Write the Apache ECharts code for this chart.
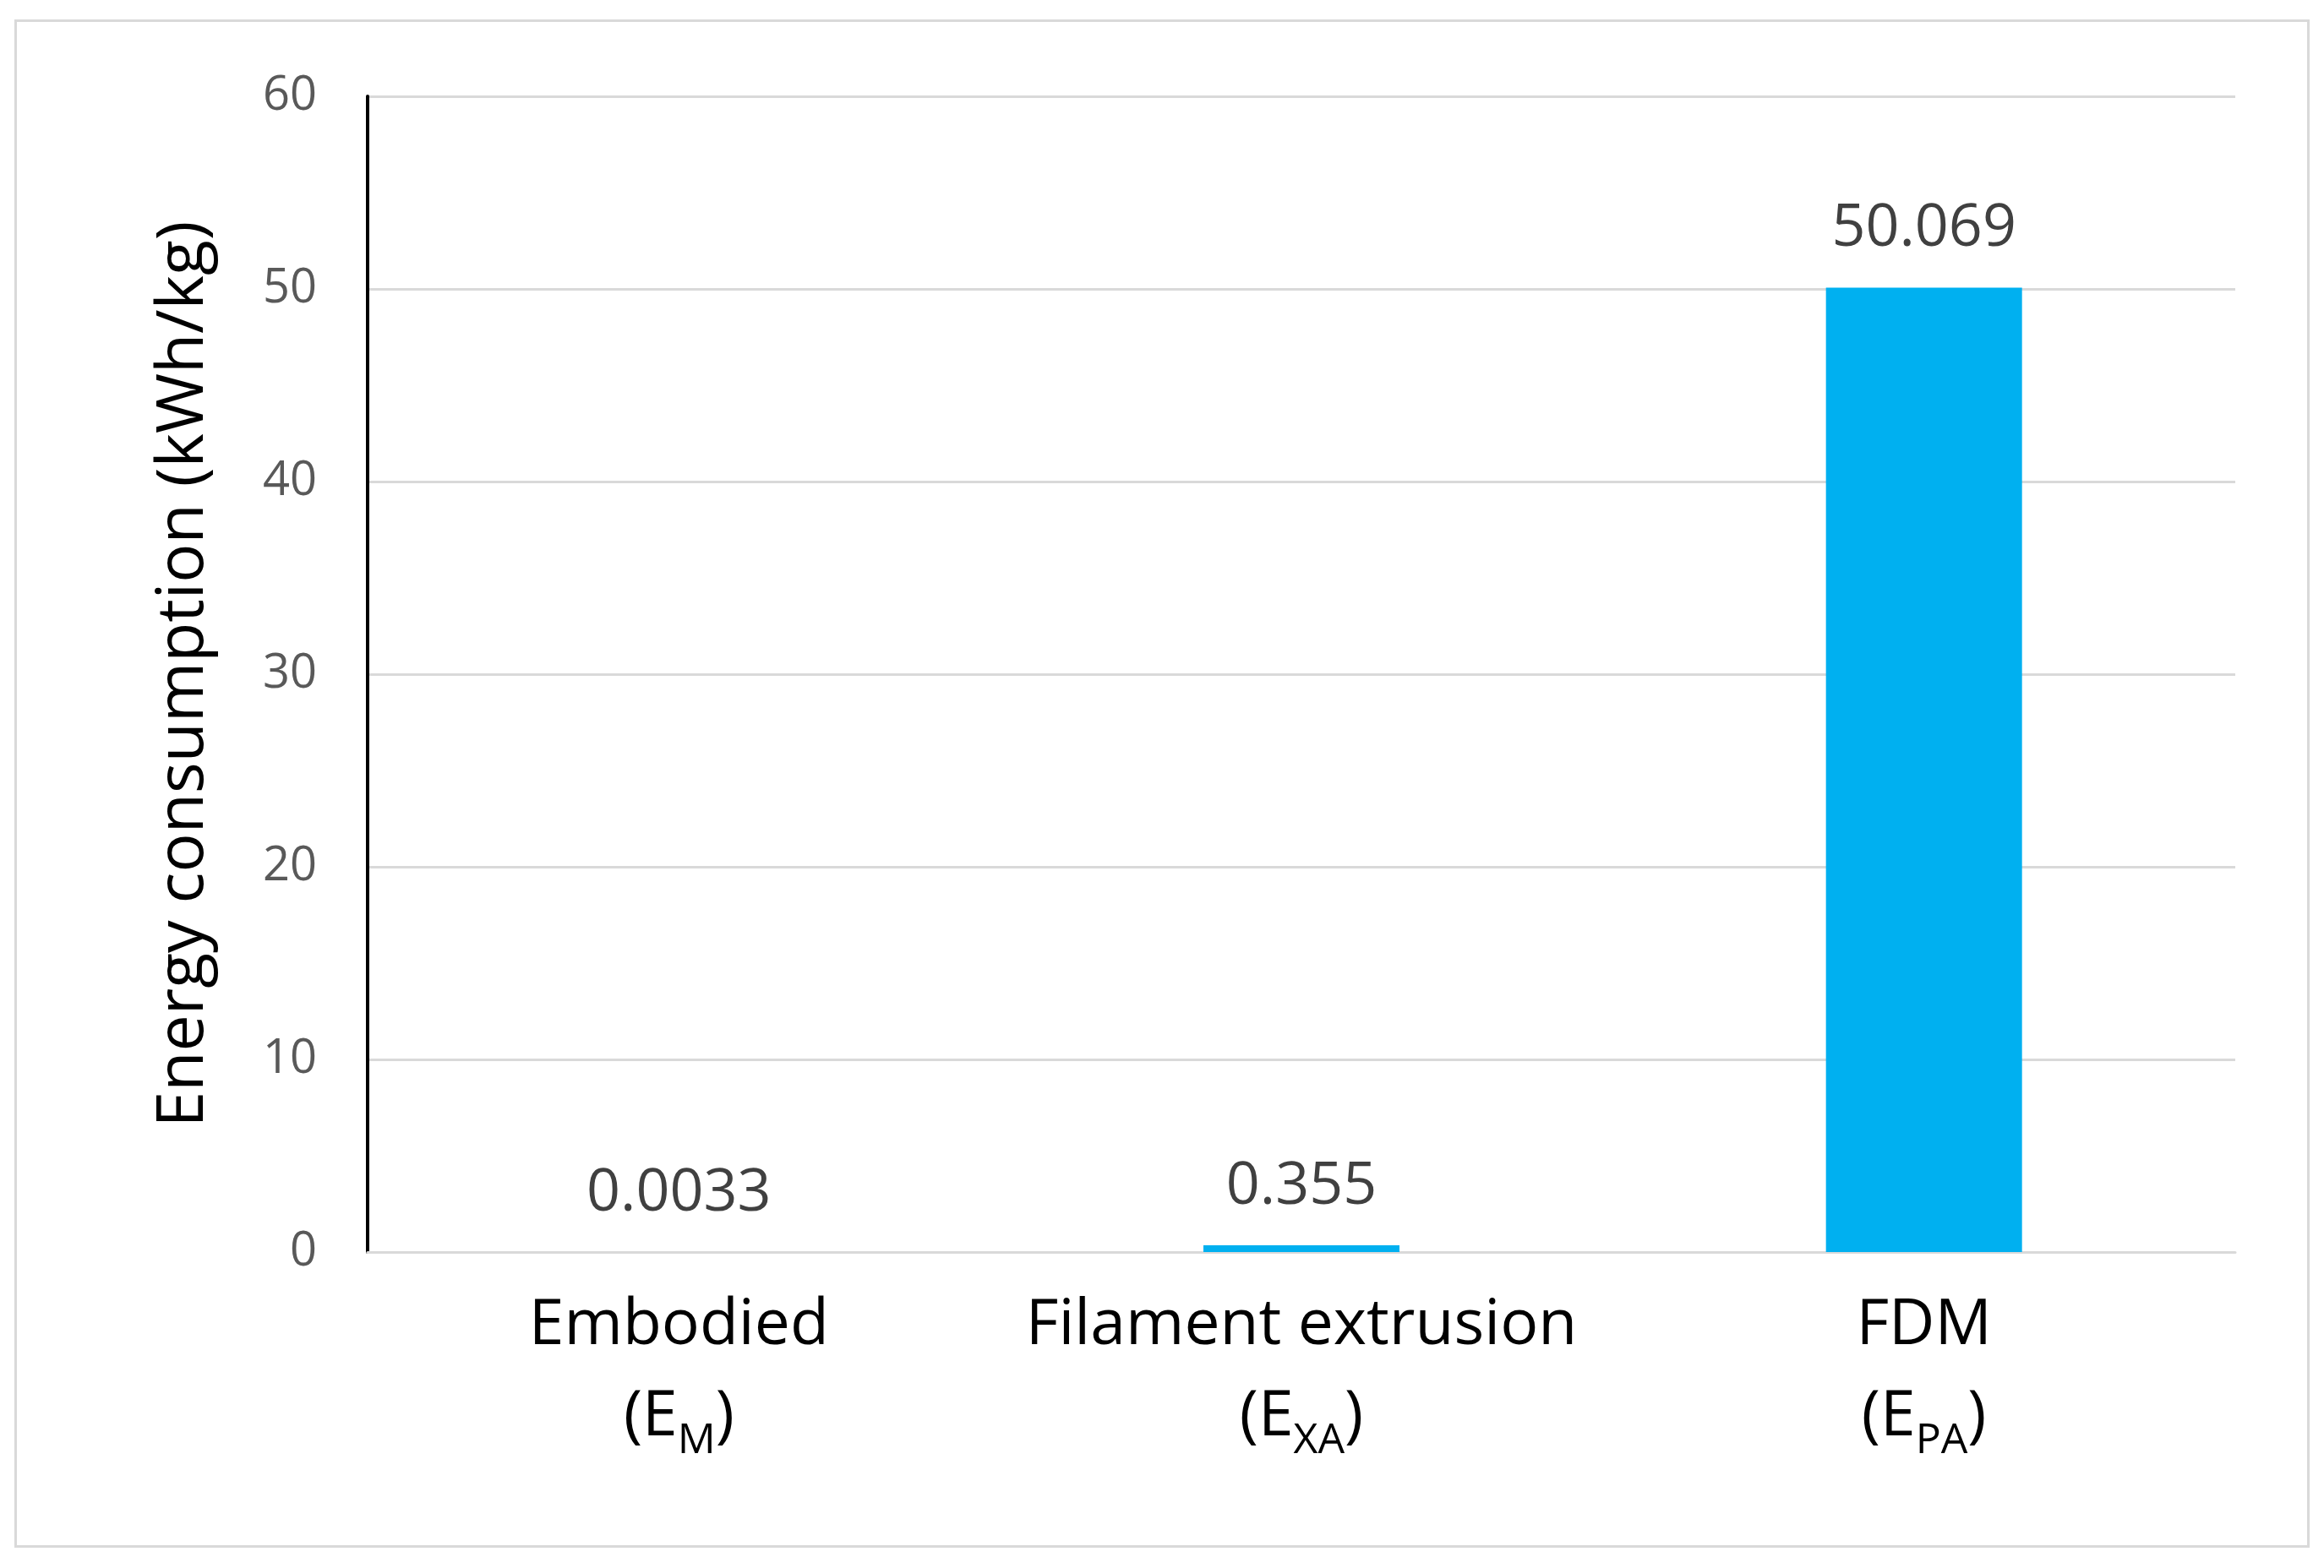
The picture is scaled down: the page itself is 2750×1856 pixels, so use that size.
<!DOCTYPE html>
<html>
<head>
<meta charset="utf-8">
<script src="https://cdn.jsdelivr.net/npm/echarts@6/dist/echarts.min.js"></script>
<style>
  html, body { margin: 0; padding: 0; background: #fff; }
  #chart { width: 2750px; height: 1856px; }
</style>
</head>
<body>
<div id="chart"></div>
<script>
// data
var categories = ['Embodied', 'Filament extrusion', 'FDM']
var subscripts = ['M', 'XA', 'PA']
var energyValues = [0.0033, 0.355, 50.069]
var valueLabels = ['0.0033', '0.355', '50.069']

var FONT = '"Open Sans", "DejaVu Sans", sans-serif'

var chart = echarts.init(document.getElementById('chart'))

var option = {
  backgroundColor: '#fff',
  animation: false,
  graphic: [
    {
      // thin frame round the whole figure
      type: 'rect',
      left: 16,
      top: 22,
      shape: { width: 2713, height: 1806 },
      style: { fill: 'none', stroke: '#d9d9d9', lineWidth: 3 },
      silent: true
    }
  ],
  grid: {
    left: 435,
    right: 105,
    top: 114,
    bottom: 374,
    containLabel: false
  },
  xAxis: {
    type: 'category',
    data: categories,
    axisLine: { show: true, lineStyle: { color: '#d9d9d9', width: 3 } },
    axisTick: { show: false },
    axisLabel: {
      interval: 0,
      margin: 34,
      fontFamily: FONT,
      formatter: function (value, idx) {
        return '{n|' + value + '}\n{n|(E}{s|' + subscripts[idx] + '}{n|)}'
      },
      rich: {
        n: { fontSize: 75, color: '#000', fontFamily: FONT, lineHeight: 108 },
        s: { fontSize: 50, color: '#000', fontFamily: FONT, lineHeight: 108, padding: [56, 0, 0, 0] }
      }
    }
  },
  yAxis: {
    type: 'value',
    min: 0,
    max: 60,
    interval: 10,
    name: 'Energy consumption (kWh/kg)',
    nameLocation: 'middle',
    nameGap: 178,
    nameRotate: 90,
    nameTextStyle: { fontSize: 77, color: '#000', fontFamily: FONT },
    axisLine: { show: true, lineStyle: { color: '#000', width: 4 } },
    axisTick: { show: false },
    axisLabel: { margin: 60, fontSize: 56, color: '#595959', fontFamily: FONT },
    splitLine: { show: true, lineStyle: { color: '#d9d9d9', width: 3 } }
  },
  series: [
    {
      type: 'bar',
      data: energyValues,
      barWidth: 232,
      itemStyle: { color: '#00b0f0' },
      label: {
        show: true,
        position: 'top',
        distance: 34,
        fontSize: 70,
        color: '#404040',
        fontFamily: FONT,
        formatter: function (p) { return valueLabels[p.dataIndex] }
      }
    }
  ]
}

chart.setOption(option)
</script>
</body>
</html>
